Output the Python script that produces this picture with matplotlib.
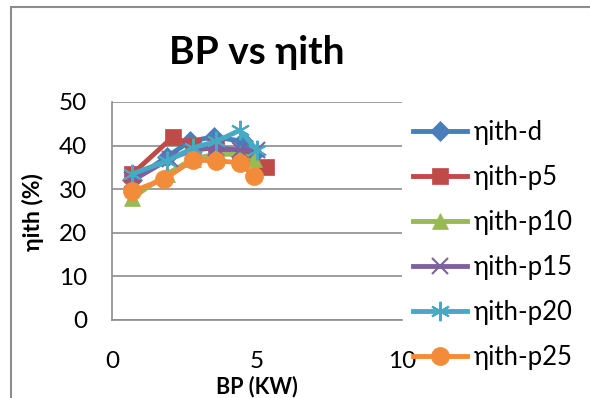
import matplotlib.pyplot as plt
from matplotlib.patches import Rectangle

plt.rcParams['font.family'] = ['Lato', 'DejaVu Sans']

# data
bp_d = [0.7, 1.9, 2.7, 3.5, 4.5, 4.9]
eta_d = [32.0, 37.5, 41.0, 42.0, 41.0, 38.0]
bp_p5 = [0.7, 2.1, 2.8, 3.6, 4.4, 5.3]
eta_p5 = [33.5, 42.0, 40.0, 40.0, 37.0, 35.0]
bp_p10 = [0.7, 1.9, 2.8, 3.6, 4.4, 4.9]
eta_p10 = [28.0, 33.5, 37.0, 38.0, 38.0, 37.0]
bp_p15 = [0.7, 2.0, 2.8, 3.6, 4.4, 5.0]
eta_p15 = [32.0, 37.0, 39.0, 39.5, 39.0, 39.0]
bp_p20 = [0.7, 1.9, 2.8, 3.6, 4.4, 5.0]
eta_p20 = [33.5, 36.5, 39.5, 41.0, 43.5, 39.0]
bp_p25 = [0.7, 1.8, 2.8, 3.6, 4.4, 4.9]
eta_p25 = [29.5, 32.3, 36.7, 36.5, 36.1, 33.0]

labels = ['ηith-d', 'ηith-p5', 'ηith-p10', 'ηith-p15', 'ηith-p20', 'ηith-p25']
colors = ['#4A7EBB', '#BE4B48', '#98B954', '#7D60A0', '#46AAC5', '#F38C3A']
markers = ['D', 's', '^', 'x', (6, 2, 0), 'o']
msizes = [10, 12, 12, 12, 14, 13]

fig = plt.figure(figsize=(5.9, 3.98), dpi=100)
ax = fig.add_axes([112 / 590, 1 - 320 / 398, 290 / 590, 218 / 398])

series = [(bp_d, eta_d), (bp_p5, eta_p5), (bp_p10, eta_p10),
          (bp_p15, eta_p15), (bp_p20, eta_p20), (bp_p25, eta_p25)]
for (x, y), lab, c, m, ms in zip(series, labels, colors, markers, msizes):
    thin = m == 'x' or isinstance(m, tuple)
    ax.plot(x, y, color=c, marker=m, markersize=ms, linewidth=3.5,
            markeredgewidth=1.5 if thin else 0.5, markeredgecolor=c,
            label=lab, zorder=3)

ax.set_xlim(0, 10)
ax.set_ylim(0, 50)
ax.set_xticks([0, 5, 10])
ax.set_yticks([0, 10, 20, 30, 40, 50])
ax.grid(axis='y', color='#8c8c8c', linewidth=1.2)
ax.set_axisbelow(True)
for s in ['top', 'right']:
    ax.spines[s].set_visible(False)
for s in ['left', 'bottom']:
    ax.spines[s].set_color('#8c8c8c')
    ax.spines[s].set_linewidth(1.2)
ax.tick_params(axis='both', length=0, labelsize=17.5)
ax.tick_params(axis='x', pad=22)
ax.tick_params(axis='y', pad=18)

ax.set_title('BP vs ηith', fontsize=28, fontweight='bold', pad=27)
ax.set_xlabel('BP (KW)', fontsize=15.5, fontweight='bold')
ax.xaxis.set_label_coords(0.5, -0.305)
ax.xaxis.label.set_va('center')
ax.set_ylabel('ηith (%)', fontsize=16.5, fontweight='bold')
ax.yaxis.set_label_coords(-0.272, 0.495)
ax.yaxis.label.set_va('center')

fig.legend(loc='center left', bbox_to_anchor=(413 / 590, 1 - 245 / 398),
           frameon=False, fontsize=18.5, handlelength=2.1, handletextpad=0.25,
           labelspacing=0.78, borderpad=0, borderaxespad=0)

# chart border
fig.add_artist(Rectangle((11 / 590, -0.1), 1.2, 1 - 7 / 398 + 0.1,
                         transform=fig.transFigure, fill=False,
                         edgecolor='#8c8c8c', linewidth=1.5))

fig.savefig('out.png', dpi=100)
